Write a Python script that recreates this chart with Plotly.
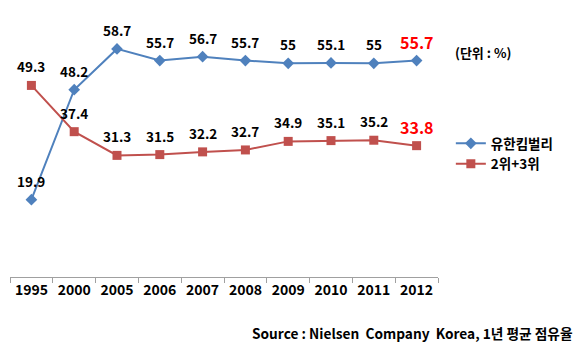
import plotly.graph_objects as go

years = ["1995", "2000", "2005", "2006", "2007", "2008", "2009", "2010", "2011", "2012"]
yuhan = [19.9, 48.2, 58.7, 55.7, 56.7, 55.7, 55, 55.1, 55, 55.7]
rank23 = [49.3, 37.4, 31.3, 31.5, 32.2, 32.7, 34.9, 35.1, 35.2, 33.8]
names = ["유한킴벌리", "2위+3위"]

FONT = "Noto Sans CJK KR"
BLUE = "#4F81BD"
RED = "#C0504D"

fig = go.Figure()
fig.add_trace(go.Scatter(x=years, y=yuhan, name=f"<b>{names[0]}</b>", mode="lines+markers",
                         line=dict(color=BLUE, width=2),
                         marker=dict(symbol="diamond", size=9, color=BLUE)))
fig.add_trace(go.Scatter(x=years, y=rank23, name=f"<b>{names[1]}</b>", mode="lines+markers",
                         line=dict(color=RED, width=2),
                         marker=dict(symbol="square", size=9, color=RED)))

ann = []
for series in (yuhan, rank23):
    for i, yv in enumerate(series):
        last = i == len(years) - 1
        ann.append(dict(x=i, y=yv, text=f"<b>{yv:g}</b>", showarrow=False,
                        yshift=19, xref="x", yref="y",
                        font=dict(family=FONT, size=16 if last else 13.5,
                                  color="#FF0000" if last else "black")))

ann.append(dict(x=1.035, y=(277 - 52) / 272, xref="paper", yref="paper",
                xanchor="left", yanchor="middle", showarrow=False,
                text="<b>(단위 : %)</b>", font=dict(family=FONT, size=13, color="black")))
src = "Source\u00a0:\u00a0Nielsen\u00a0\u00a0Company\u00a0\u00a0Korea,\u00a01년\u00a0평균\u00a0점유율"
ann.append(dict(x=(575 - 10) / 428, y=(277 - 333) / 272, xref="paper", yref="paper",
                xanchor="right", yanchor="middle", showarrow=False,
                text=f"<b>{src}</b>", font=dict(family=FONT, size=13.7, color="black")))

fig.update_layout(
    width=582, height=354,
    margin=dict(l=10, r=144, t=5, b=77),
    paper_bgcolor="white", plot_bgcolor="white",
    showlegend=True,
    legend=dict(x=1.03, y=(277 - 128) / 272, xanchor="left", yanchor="top",
                font=dict(family=FONT, size=13.5, color="black"),
                itemwidth=30, tracegroupgap=4, bgcolor="rgba(0,0,0,0)"),
    annotations=ann,
    font=dict(family=FONT, color="black"),
)
fig.update_xaxes(type="category", range=[-0.5, 9.5], showline=True, linecolor="#A0A0A0",
                 linewidth=1, ticks="outside", tickson="boundaries", ticklen=5,
                 tickcolor="#A0A0A0", showgrid=False, zeroline=False,
                 tickfont=dict(family=FONT, size=14, color="black"),
                 tickvals=years, ticktext=[f"<b>{y}</b>" for y in years])
fig.update_yaxes(range=[0, 70], visible=False, showgrid=False, zeroline=False)

fig.write_html("out.html")
